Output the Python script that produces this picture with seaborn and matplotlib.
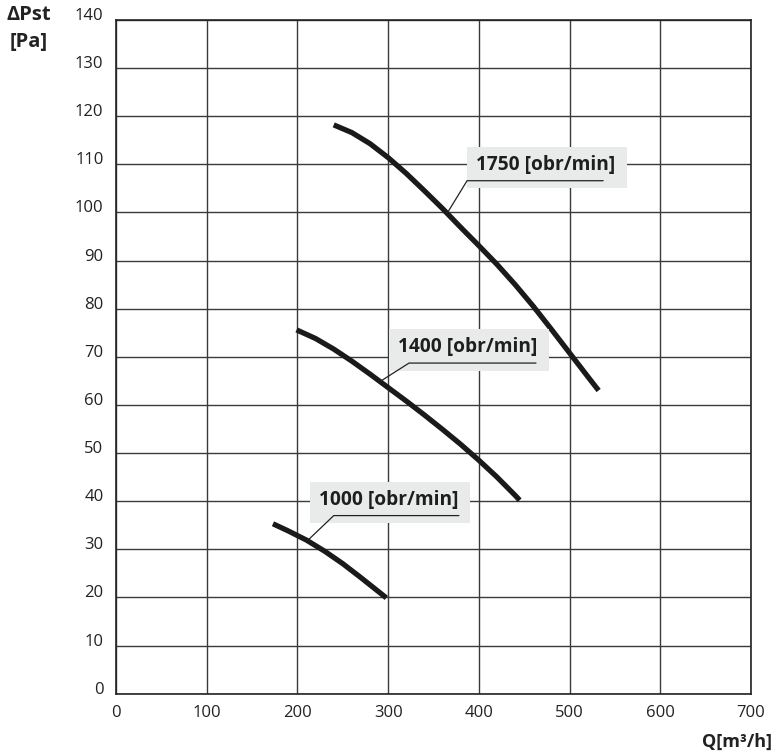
"""Fan curves: static pressure vs air flow for three speeds."""
import matplotlib
matplotlib.use('Agg')
import matplotlib.pyplot as plt
from matplotlib.patches import Rectangle
import seaborn as sns
import numpy as np
import pandas as pd

# Curve data (Q [m3/h], dPst [Pa])
q_1000 = [173, 190, 210, 230, 250, 270, 290, 298]
p_1000 = [35.3, 33.8, 31.9, 29.6, 27.0, 24.1, 21.1, 19.9]

q_1400 = [199, 220, 240, 260, 280, 300, 320, 340, 360, 380, 400, 420, 440, 445]
p_1400 = [75.6, 73.8, 71.6, 69.1, 66.4, 63.6, 60.8, 57.9, 54.9, 51.8, 48.5, 45.0, 41.2, 40.2]

q_1750 = [240, 260, 280, 300, 320, 340, 360, 380, 400, 420, 440, 460, 480, 500, 520, 532]
p_1750 = [118.2, 116.6, 114.3, 111.4, 108.1, 104.5, 100.8, 96.9, 93.1, 89.2, 85.0, 80.5, 75.7, 70.8, 65.9, 63.0]

speeds = ['1000 [obr/min]', '1400 [obr/min]', '1750 [obr/min]']
x_ticks = [0, 100, 200, 300, 400, 500, 600, 700]
y_ticks = [0, 10, 20, 30, 40, 50, 60, 70, 80, 90, 100, 110, 120, 130, 140]

# Label layout: box left, box top, underline start, underline end, leader target x
label_layout = {
    '1000 [obr/min]': (214, 44.0, 240, 378, 211),
    '1400 [obr/min]': (301, 75.7, 323, 463, 291),
    '1750 [obr/min]': (387, 113.6, 387, 537, 365),
}

df = pd.concat([
    pd.DataFrame({'Q': q_1000, 'P': p_1000, 'speed': speeds[0]}),
    pd.DataFrame({'Q': q_1400, 'P': p_1400, 'speed': speeds[1]}),
    pd.DataFrame({'Q': q_1750, 'P': p_1750, 'speed': speeds[2]}),
])

sns.set_style('white')
plt.rcParams['font.family'] = ['Open Sans', 'DejaVu Sans']

fig = plt.figure(figsize=(7.74, 7.55), dpi=100)
ax = fig.add_axes([0.1499, 0.0813, 0.8204, 0.8922])

sns.lineplot(data=df, x='Q', y='P', hue='speed', palette=['#1a1a1a'] * 3,
             linewidth=3.8, legend=False, ax=ax, solid_capstyle='butt',
             solid_joinstyle='round', zorder=3)

ax.set_xlim(0, 700)
ax.set_ylim(0, 140)
ax.set_xticks(x_ticks)
ax.set_yticks(y_ticks)
ax.set_xticklabels([str(v) for v in x_ticks], fontsize=12, color='#222222')
ax.set_yticklabels([str(v) for v in y_ticks], fontsize=12, color='#222222')
for lbl in ax.get_yticklabels():
    lbl.set_verticalalignment('baseline')
ax.tick_params(axis='both', length=0)
ax.tick_params(axis='y', pad=9)
ax.tick_params(axis='x', pad=8)
ax.grid(True, color='#3a3a3a', linewidth=1.0)
for sp in ax.spines.values():
    sp.set_color('#222222')
    sp.set_linewidth(1.2)
ax.set_xlabel('')
ax.set_ylabel('')

# Boxed labels with underline and leader line to the curve
box_w, box_h = 176, 8.6
for name, (bx, by, ux0, ux1, lx) in label_layout.items():
    sub = df[df['speed'] == name]
    ax.add_patch(Rectangle((bx, by - box_h), box_w, box_h, facecolor='#e9eaea',
                           edgecolor='none', zorder=4))
    uy = by - box_h + 1.6
    ax.text(bx + 10, by - box_h / 2 + 0.6, name, fontsize=13.8, fontweight='bold',
            color='#1e1e1e', ha='left', va='center', zorder=5)
    ly = np.interp(lx, sub['Q'], sub['P'])
    ax.plot([ux1, ux0, lx], [uy, uy, ly], color='#222222', linewidth=0.9, zorder=5)

fig.text(29 / 774, 1 - 15 / 755, 'ΔPst', fontsize=14.5, fontweight='bold',
         ha='center', va='center', color='#222222')
fig.text(29 / 774, 1 - 42 / 755, '[Pa]', fontsize=14.5, fontweight='bold',
         ha='center', va='center', color='#222222')
fig.text(772 / 774, 1 - 742 / 755, 'Q[m³/h]', fontsize=13, fontweight='bold',
         ha='right', va='center', color='#222222')

plt.savefig('out.png', dpi=100)
plt.close()
